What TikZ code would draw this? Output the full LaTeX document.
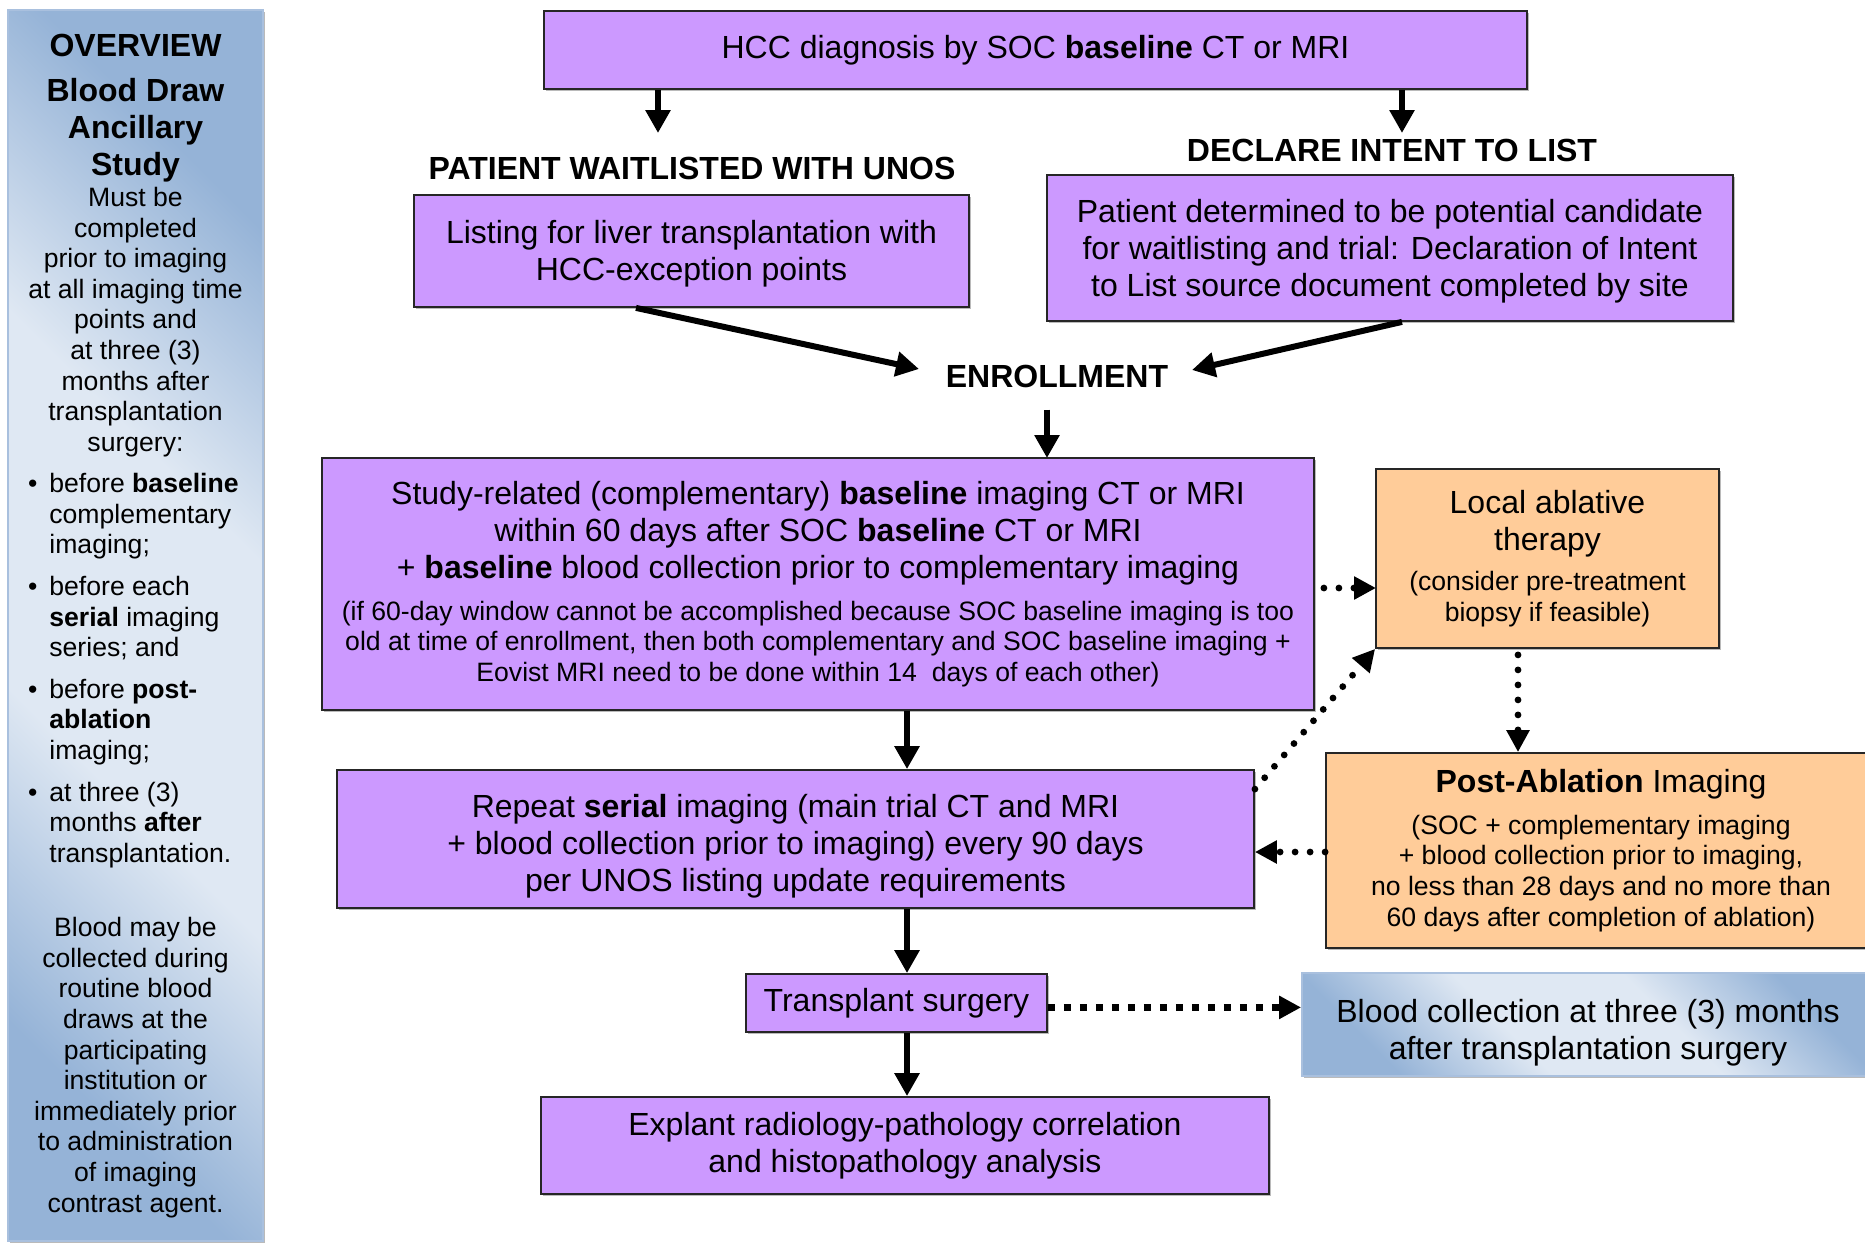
\documentclass[tikz,border=0pt]{standalone}
\usepackage{fontspec}
\setmainfont{Liberation Sans}
\usetikzlibrary{arrows.meta,shadows}

\definecolor{lilac}{HTML}{CC99FF}
\definecolor{peach}{HTML}{FFCC99}
\definecolor{steel}{HTML}{95B3D7}
\definecolor{pale}{HTML}{DFE8F3}
\definecolor{rim}{HTML}{A9C0DE}

\newcommand{\notesize}{\fontsize{13.3}{15.3}\selectfont}
\newcommand{\pushdown}[1]{\rule{0pt}{#1}}
\pgfdeclareverticalshading{panelshade}{100bp}{color(0bp)=(steel); color(25bp)=(steel); color(41bp)=(pale); color(59bp)=(pale); color(75bp)=(steel); color(100bp)=(steel)}

\tikzset{
  box/.style={draw=black!85, line width=0.9pt, fill=lilac, align=center, inner sep=0pt,
    drop shadow={shadow xshift=0.8pt, shadow yshift=-0.8pt, fill=black!45, opacity=0.6}},
  orangebox/.style={box, fill=peach},
  bluebox/.style={box, draw=rim, shading=panelshade, shading angle=-45},
  heading/.style={font=\fontsize{16}{18.5}\selectfont\bfseries, inner sep=0pt},
  arr/.style={line width=3pt, -{Triangle[length=11.5pt,width=12pt]}},
  dotarr/.style={line width=3.4pt, line cap=round, dash pattern=on 0pt off 7.5pt, -{Triangle[length=11pt,width=11pt]}},
  sqarr/.style={line width=3.5pt, dash pattern=on 3.5pt off 4.5pt, -{Triangle[length=11pt,width=11pt]}},
}

\begin{document}
\begin{tikzpicture}[x=0.5pt, y=-0.5pt, font=\fontsize{16}{18.5}\selectfont]
\useasboundingbox (0,0) rectangle (1865,1243);
\clip (0,0) rectangle (1865,1243);

% overview panel
\node[bluebox, minimum width=127.5pt, minimum height=615.5pt] (overview) at (135.5,625.5) {};
\node[heading] (ovtitle) at (135.5,45) {OVERVIEW};
\node[heading, align=center] (ovstudy) at (135.5,130.5) {Blood Draw\\Ancillary\\Study};
\node[font=\notesize, align=center, inner sep=0pt] (ovmust) at (135.5,322) {Must be\\completed\\prior to imaging\\at all imaging time\\points and\\at three (3)\\months after\\transplantation\\surgery:};
\node[font=\notesize, align=left, inner sep=0pt, anchor=north west] (ovlist) at (49,473) {%
  \llap{•\hspace{6pt}}before \textbf{baseline}\\complementary\\imaging;\\[5.5pt]
  \llap{•\hspace{6pt}}before each\\\textbf{serial} imaging\\series; and\\[5.5pt]
  \llap{•\hspace{6pt}}before \textbf{post-}\\\textbf{ablation}\\imaging;\\[5.5pt]
  \llap{•\hspace{6pt}}at three (3)\\months \textbf{after}\\transplantation.};
\node[font=\notesize, align=center, inner sep=0pt] (ovblood) at (135.5,1067.5) {Blood may be\\collected during\\routine blood\\draws at the\\participating\\institution or\\immediately prior\\to administration\\of imaging\\contrast agent.};

% main flow
\node[box, minimum width=491.5pt, minimum height=39pt] (hcc) at (1035.5,50) {HCC diagnosis by SOC \textbf{baseline} CT or MRI};
\node[heading] (waitlbl) at (692,168) {PATIENT WAITLISTED WITH UNOS};
\node[box, minimum width=277.5pt, minimum height=56pt] (listing) at (691.5,251) {\pushdown{14pt}Listing for liver transplantation with\\HCC-exception points};
\node[heading] (intentlbl) at (1392,150) {DECLARE INTENT TO LIST};
\node[box, minimum width=343pt, minimum height=73pt] (intent) at (1390,248) {\pushdown{15.3pt}Patient determined to be potential candidate\\for waitlisting and trial: Declaration of Intent\\to List source document completed by site};
\node[heading] (enroll) at (1057,376) {ENROLLMENT};
\node[box, align=flush center, text width=496pt, minimum height=126pt] (baseline) at (818,584) {Study-related (complementary) \textbf{baseline} imaging CT or MRI\\within 60 days after SOC \textbf{baseline} CT or MRI\\+ \textbf{baseline} blood collection prior to complementary imaging\par\vspace{5.5pt}
  {\notesize (if 60-day window cannot be accomplished because SOC baseline imaging is too\\old at time of enrollment, then both complementary and SOC baseline imaging +\\Eovist MRI need to be done within 14\ \ days of each other)\par}};
\node[orangebox, align=flush center, text width=171.5pt, minimum height=89.5pt] (ablation) at (1547.5,558.5) {Local ablative\\therapy\par\vspace{5pt}{\notesize (consider pre-treatment\\biopsy if feasible)\par}};
\node[box, minimum width=458.5pt, minimum height=69pt] (serial) at (795.5,839) {\pushdown{18.8pt}Repeat \textbf{serial} imaging (main trial CT and MRI\\+ blood collection prior to imaging) every 90 days\\per UNOS listing update requirements};
\node[orangebox, align=flush center, text width=275pt, minimum height=97.5pt] (postabl) at (1601,850.5) {\textbf{Post-Ablation} Imaging\par\vspace{5.5pt}{\notesize (SOC + complementary imaging\\+ blood collection prior to imaging,\\no less than 28 days and no more than\\60 days after completion of ablation)\par}};
\node[box, minimum width=150.5pt, minimum height=29pt] (transplant) at (896.5,1003) {Transplant surgery};
\node[bluebox, minimum width=286pt, minimum height=51.5pt] (bloodlater) at (1588,1024.5) {\pushdown{20pt}Blood collection at three (3) months\\after transplantation surgery};
\node[box, minimum width=364pt, minimum height=48.5pt] (explant) at (905,1145.5) {Explant radiology-pathology correlation\\and histopathology analysis};

\coordinate (w1) at (658,133);
\coordinate (d1) at (1402,133);
\coordinate (e1) at (919,369);
\coordinate (e2) at (1192,370);
\coordinate (s1) at (1047,458);
\coordinate (spine) at (907,0);
\coordinate (la) at (1376,588);
\coordinate (pa) at (1518,0);
\coordinate (pr) at (0,852);
\coordinate (tb) at ([yshift=-2.2pt]transplant.east);

\draw[arr] (hcc.south -| w1) -- (w1);
\draw[arr] (hcc.south -| d1) -- (d1);
\draw[arr] ([xshift=-27.75pt]listing.south) -- (e1);
\draw[arr] ([xshift=6pt]intent.south) -- (e2);
\draw[arr, shorten <=11pt] (enroll.south -| s1) -- (s1);
\draw[arr] (baseline.south -| spine) -- (serial.north -| spine);
\draw[arr] (serial.south -| spine) -- (transplant.north -| spine);
\draw[arr] (transplant.south -| spine) -- (explant.north -| spine);

\draw[dotarr, shorten <=4.5pt] (baseline.east |- la) -- (la);
\draw[dotarr] ([yshift=-10pt]serial.north east) -- (ablation.south west);
\draw[dotarr, shorten <=3pt] (ablation.south -| pa) -- (postabl.north -| pa);
\draw[dotarr] (postabl.west |- pr) -- (serial.east |- pr);
\draw[sqarr] (tb) -- (bloodlater.west |- tb);
\end{tikzpicture}
\end{document}
